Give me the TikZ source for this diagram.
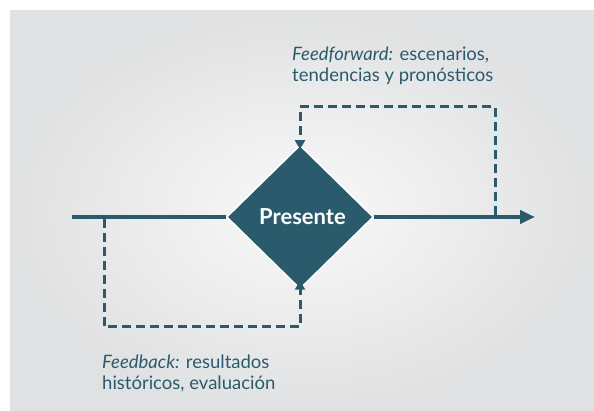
\documentclass[tikz,border=0pt]{standalone}
\usepackage{fontspec}
\setmainfont{Lato}
\usetikzlibrary{shapes.geometric,arrows.meta}
\definecolor{teal}{HTML}{2A5B6D}
\definecolor{bgout}{HTML}{E0E1E2}
\definecolor{bgin}{HTML}{F9F9F9}
\tikzset{
  mainline/.style={line width=4.5pt, color=teal},
  dashline/.style={line width=3pt, color=teal, dash pattern=on 9pt off 5pt},
  caption/.style={anchor=north west, inner sep=0pt, align=left, text=teal,
     font=\fontsize{18.5}{21}\selectfont},
  presbox/.style={shape=diamond, fill=teal, draw=white, line width=1.5pt,
     minimum width=147pt, minimum height=144pt, inner sep=0pt, text=white,
     font=\fontsize{22}{24}\selectfont\bfseries}
}
\begin{document}
\begin{tikzpicture}[x=1pt,y=-1pt]
\useasboundingbox (0,0) rectangle (594,411);
\shade[inner color=bgin, outer color=bgout] (10,11) rectangle (594,411);
\node[presbox] (P) at (300,217) {\hspace*{5pt}Presente};
\coordinate (start) at (72,217);
\coordinate (end) at (535,217);
\coordinate (fb) at (104,219);
\coordinate (fbc) at (300,327);
\coordinate (ff) at (495,215);
\coordinate (ffc) at (300,107);
\draw[mainline] (start) -- (P.west);
\draw[mainline, -{Triangle[length=15pt,width=13pt]}] (P.east) -- (end);
\draw[dashline, -{Triangle[length=9pt,width=10pt]}] (fb) |- (fbc) -- ([yshift=9pt]P.south);
\draw[dashline, -{Triangle[length=9pt,width=10pt]}] (ff) |- (ffc) -- ([yshift=-5pt]P.north);
\node[caption] (fftext) at (292,47) {\textit{Feedforward:} escenarios,\\tendencias y pronósticos};
\node[caption] (fbtext) at (102,355) {\textit{Feedback:} resultados\\históricos, evaluación};
\end{tikzpicture}
\end{document}
